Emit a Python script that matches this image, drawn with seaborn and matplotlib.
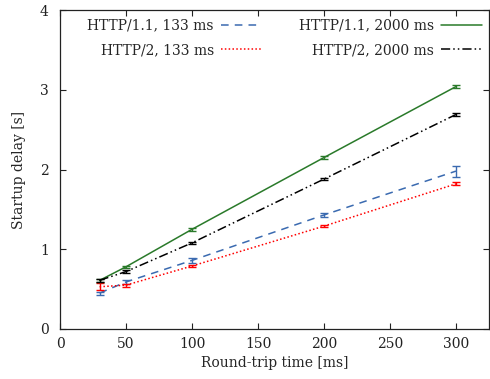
import matplotlib
matplotlib.use("Agg")
import matplotlib.pyplot as plt
import seaborn as sns
import pandas as pd

rtt = [30, 50, 100, 200, 300]
h1_133 = [0.45, 0.59, 0.86, 1.43, 1.98]
h1_133_err = [0.02, 0.02, 0.03, 0.03, 0.07]
h2_133 = [0.53, 0.55, 0.79, 1.29, 1.82]
h2_133_err = [0.045, 0.02, 0.015, 0.015, 0.02]
h1_2000 = [0.61, 0.78, 1.25, 2.15, 3.04]
h1_2000_err = [0.02, 0.015, 0.02, 0.02, 0.02]
h2_2000 = [0.61, 0.72, 1.08, 1.88, 2.69]
h2_2000_err = [0.02, 0.015, 0.015, 0.015, 0.015]

labels = ["HTTP/1.1, 133 ms", "HTTP/2, 133 ms", "HTTP/1.1, 2000 ms", "HTTP/2, 2000 ms"]
series = [h1_133, h2_133, h1_2000, h2_2000]
errs = [h1_133_err, h2_133_err, h1_2000_err, h2_2000_err]
colors = ["#3a6ab0", "#ff0000", "#2a7a2a", "#000000"]
styles = [(0, (5, 4)), (0, (1, 1.5)), "-", (0, (6, 2, 1, 2, 1, 2))]

sns.set_style("ticks")
plt.rcParams["font.family"] = ["DejaVu Serif"]

fig = plt.figure(figsize=(4.9, 3.79), dpi=100)
ax = fig.add_axes([60 / 490, 50 / 379, 429 / 490, 319 / 379])

rows = []
for lab, ys in zip(labels, series):
    for x, y in zip(rtt, ys):
        rows.append({"rtt": x, "delay": y, "series": lab})
df = pd.DataFrame(rows)

handles = []
for lab, ys, e, c, ls in zip(labels, series, errs, colors, styles):
    sub = df[df["series"] == lab]
    sns.lineplot(data=sub, x="rtt", y="delay", ax=ax, color=c, linewidth=1.1,
                 linestyle=ls, legend=False)
    handles.append(ax.get_lines()[-1])
    ax.errorbar(rtt, ys, yerr=e, fmt="none", ecolor=c, elinewidth=1.0,
                capsize=3, capthick=1.0)

ax.legend(handles=handles, labels=labels, ncol=2, frameon=False,
          markerfirst=False, loc="upper center", bbox_to_anchor=(0.524, 1.012),
          fontsize=10, handlelength=3.0, columnspacing=2.6,
          handletextpad=0.5, labelspacing=0.75)

ax.set_xlim(0, 325)
ax.set_ylim(0, 4)
ax.set_xticks([0, 50, 100, 150, 200, 250, 300])
ax.set_yticks([0, 1, 2, 3, 4])
ax.tick_params(direction="in", top=True, right=True, labelsize=10,
               length=4, width=0.8, colors="#222222")
ax.tick_params(axis="x", pad=6)
ax.tick_params(axis="y", pad=8)
for s in ax.spines.values():
    s.set_linewidth(0.9)
    s.set_color("#222222")
ax.set_xlabel("Round-trip time [ms]", fontsize=10, labelpad=3)
ax.set_ylabel("Startup delay [s]", fontsize=10, labelpad=10)

fig.savefig("out.png", dpi=100)
